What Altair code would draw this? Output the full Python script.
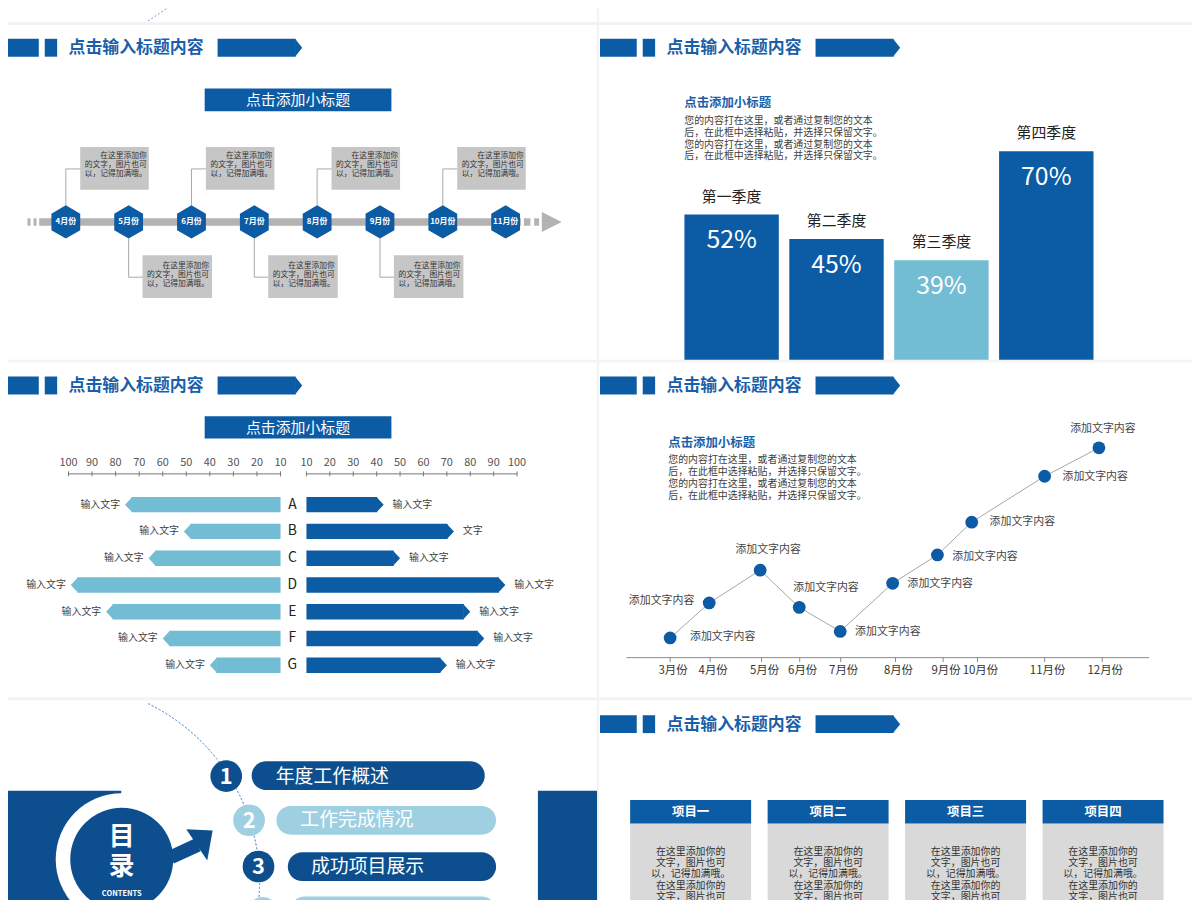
import altair as alt
import pandas as pd

# ---------------- chart values ----------------
header_title = "点击输入标题内容"
subtitle = "点击添加小标题"

timeline_months = ["4月份", "5月份", "6月份", "7月份", "8月份", "9月份", "10月份", "11月份"]
timeline_notes_above = ["4月份", "6月份", "8月份", "10月份"]
timeline_notes_below = ["5月份", "7月份", "9月份"]
timeline_note = ["在这里添加你", "的文字，图片也可", "以，记得加满哦。"]

quarter_names = ["第一季度", "第二季度", "第三季度", "第四季度"]
quarter_values = [52, 45, 39, 70]

paragraph = [
    "您的内容打在这里，或者通过复制您的文本",
    "后，在此框中选择粘贴，并选择只保留文字。",
    "您的内容打在这里，或者通过复制您的文本",
    "后，在此框中选择粘贴，并选择只保留文字。",
]

pair_categories = ["A", "B", "C", "D", "E", "F", "G"]
pair_left = [76, 51, 66, 99, 84, 60, 40]
pair_right = [43, 73, 50, 95, 80, 86, 70]
pair_left_labels = ["输入文字", "输入文字", "输入文字", "输入文字", "输入文字", "输入文字", "输入文字"]
pair_right_labels = ["输入文字", "文字", "输入文字", "输入文字", "输入文字", "输入文字", "输入文字"]
pair_ticks = [10, 20, 30, 40, 50, 60, 70, 80, 90, 100]

line_months = ["3月份", "4月份", "5月份", "6月份", "7月份", "8月份", "9月份", "10月份", "11月份", "12月份"]
line_month_pos = [3.0, 3.82, 4.89, 5.71, 6.57, 7.67, 8.61, 9.33, 10.86, 12.0]
line_tick_pos = [3.0, 3.84, 4.92, 5.72, 6.58, 7.73, 8.73, 9.45, 10.86, 12.07]
line_values = [9, 25, 40, 23, 12, 34, 47, 62, 83, 96]
line_label = "添加文字内容"

toc_numbers = ["1", "2", "3"]
toc_items = ["年度工作概述", "工作完成情况", "成功项目展示"]
toc_title = ["目", "录"]
toc_sub = "CONTENTS"

project_names = ["项目一", "项目二", "项目三", "项目四"]
project_text = ["在这里添加你的", "文字，图片也可", "以，记得加满哦。", "在这里添加你的", "文字，图片也可"]

# ---------------- layout / style ----------------
OFF = 8  # page margin: reference pixel -> chart pixel


def p(v):
    return v - OFF


W, H = 1192, 892
FONT = "Noto Sans CJK SC"
BLUE = "#0c5ba5"
TITLE_BLUE = "#1a5fa9"
NAVY = "#0d4f8e"
LIGHT = "#72bcd4"
PALE = "#9ed0e2"
BOX_GRAY = "#c6c6c6"
CARD_GRAY = "#d9d9d9"
TL_GRAY = "#b3b3b3"
TXT = "#333333"

HEX = "M0,-1L0.866,-0.5L0.866,0.5L0,1L-0.866,0.5L-0.866,-0.5Z"
RTRI = "M0,-1L0.8,0L0,1Z"
LTIP = "M0,0L0.93,-1L0.93,1Z"
RTIP = "M0,0L-0.93,-1L-0.93,1Z"


def xpix(f="x"):
    return alt.X(f"{f}:Q", scale=None, axis=None)


def ypix(f="y"):
    return alt.Y(f"{f}:Q", scale=None, axis=None)


def rect_layer(rows, **mk):
    df = pd.DataFrame(rows, columns=["x", "x2", "y", "y2", "c"])
    for k in ["x", "x2", "y", "y2"]:
        df[k] = df[k] - OFF
    return alt.Chart(df).mark_rect(**mk).encode(
        x=xpix("x"), x2="x2:Q", y=ypix("y"), y2="y2:Q",
        color=alt.Color("c:N", scale=None, legend=None))


def text_layer(rows, size, color, weight="normal", align="left", **mk):
    df = pd.DataFrame(rows, columns=["x", "y", "t"])
    df["x"] = df["x"] - OFF
    df["y"] = df["y"] - OFF
    return alt.Chart(df).mark_text(font=FONT, fontSize=size, color=color, fontWeight=weight,
                                   align=align, baseline="middle", **mk).encode(
        x=xpix(), y=ypix(), text="t:N")


def sym_layer(rows, shape, size, color, **mk):
    df = pd.DataFrame(rows, columns=["x", "y"])
    df["x"] = df["x"] - OFF
    df["y"] = df["y"] - OFF
    return alt.Chart(df).mark_point(shape=shape, size=size, filled=True, color=color,
                                    opacity=1, strokeWidth=0, **mk).encode(x=xpix(), y=ypix())


def rule_layer(rows, color, width=1, **mk):
    df = pd.DataFrame(rows, columns=["x", "x2", "y", "y2"])
    for k in ["x", "x2", "y", "y2"]:
        df[k] = df[k] - OFF
    return alt.Chart(df).mark_rule(color=color, strokeWidth=width, **mk).encode(
        x=xpix("x"), x2="x2:Q", y=ypix("y"), y2="y2:Q")


layers = []

# ---- slides (white panels on light grey page) ----
SLIDE_COLS = [(-10, 601), (603, 1210)]
SLIDE_ROWS = [(-10, 19), (22, 359), (362, 699), (702, 910)]
layers.append(rect_layer([(c0, c1, r0, r1, "#ffffff") for (r0, r1) in SLIDE_ROWS for (c0, c1) in SLIDE_COLS]))

# ---- slide headers ----
HEADERS = [(0, 36), (602, 36), (0, 376), (602, 376), (602, 717)]
hdr = []
for hx, hy in HEADERS:
    hdr += [(hx + 2, hx + 39, hy, hy + 18, BLUE), (hx + 45, hx + 57.5, hy, hy + 18, BLUE),
            (hx + 219, hx + 297.5, hy, hy + 18, BLUE)]
layers.append(rect_layer(hdr))
layers.append(sym_layer([(hx + 297, hy + 9) for hx, hy in HEADERS], RTRI, 324, BLUE))
layers.append(text_layer([(hx + 69, hy + 9.5, header_title) for hx, hy in HEADERS], 17, TITLE_BLUE, "bold"))

# ---- subtitle bars ----
layers.append(rect_layer([(206, 394, 86, 109, BLUE), (206, 394, 416, 438.5, BLUE)]))
layers.append(text_layer([(300, 97.5, subtitle), (300, 427.5, subtitle)], 15, "#ffffff", align="center"))

# ---- timeline ----
layers.append(rect_layer([
    (39.4, 524.3, 216.7, 224.2, TL_GRAY), (27.6, 30.6, 216.7, 224.2, TL_GRAY), (33.7, 36.7, 216.7, 224.2, TL_GRAY),
    (527.4, 533.9, 216.7, 224.2, TL_GRAY), (537.7, 542.7, 216.7, 224.2, TL_GRAY)]))
layers.append(sym_layer([(545.4, 220.4)], "M0,-1L2,0L0,1Z", 400, TL_GRAY))

tl = pd.DataFrame({"month": timeline_months, "idx": list(range(len(timeline_months)))})
for i, line in enumerate(timeline_note):
    tl[f"n{i}"] = line
tx = alt.X("idx:Q", scale=alt.Scale(domain=[0, len(timeline_months) - 1], range=[p(66.2), p(509)]), axis=None)
base_tl = alt.Chart(tl)
up = alt.FieldOneOfPredicate(field="month", oneOf=timeline_notes_above)
down = alt.FieldOneOfPredicate(field="month", oneOf=timeline_notes_below)
CONN = "#a8a8a8"
layers += [
    base_tl.transform_filter(up).mark_rule(color=CONN).encode(x=tx, y=alt.value(p(167)), y2=alt.value(p(204))),
    base_tl.transform_filter(up).mark_rule(color=CONN, x2Offset=15).encode(x=tx, x2="idx:Q", y=alt.value(p(167))),
    base_tl.transform_filter(down).mark_rule(color=CONN).encode(x=tx, y=alt.value(p(237)), y2=alt.value(p(276))),
    base_tl.transform_filter(down).mark_rule(color=CONN, x2Offset=15).encode(x=tx, x2="idx:Q", y=alt.value(p(276))),
    base_tl.transform_filter(up).mark_rect(color=BOX_GRAY, xOffset=14.5, x2Offset=83.5).encode(
        x=tx, x2="idx:Q", y=alt.value(p(145)), y2=alt.value(p(188))),
    base_tl.transform_filter(down).mark_rect(color=BOX_GRAY, xOffset=14, x2Offset=84).encode(
        x=tx, x2="idx:Q", y=alt.value(p(254)), y2=alt.value(p(297))),
]
NOTE_DX = [34.7, 19.1, 19.1]
for i in range(len(timeline_note)):
    layers.append(base_tl.transform_filter(up).mark_text(
        font=FONT, fontSize=7.8, color=TXT, align="left", dx=NOTE_DX[i]).encode(
        x=tx, y=alt.value(p(154.5 + 9 * i)), text=f"n{i}:N"))
    layers.append(base_tl.transform_filter(down).mark_text(
        font=FONT, fontSize=7.8, color=TXT, align="left", dx=NOTE_DX[i] - 0.5).encode(
        x=tx, y=alt.value(p(264.5 + 9 * i)), text=f"n{i}:N"))
layers += [
    base_tl.mark_point(shape=HEX, size=1122, filled=True, color=BLUE, opacity=1, strokeWidth=0).encode(
        x=tx, y=alt.value(p(220.4))),
    base_tl.mark_text(font=FONT, fontSize=8, fontWeight="bold", color="#ffffff").encode(
        x=tx, y=alt.value(p(220.8)), text="month:N"),
]

# ---- quarterly bar chart ----
qdf = pd.DataFrame({"q": quarter_names, "v": quarter_values})
qx = alt.X("q:N", sort=quarter_names, axis=None,
           scale=alt.Scale(domain=quarter_names, range=[p(683.7), p(1106.1)], paddingInner=0.1, paddingOuter=0.05))
qy = alt.Y("v:Q", axis=None, scale=alt.Scale(domain=[0, 100], range=[p(396.9), p(42.9)]))
qbase = alt.Chart(qdf)
layers += [
    qbase.mark_rect().encode(x=qx, y=qy, y2=alt.value(p(359)),
                             color=alt.Color("q:N", legend=None,
                                             scale=alt.Scale(domain=quarter_names, range=[BLUE, BLUE, LIGHT, BLUE]))),
    qbase.mark_text(font=FONT, fontSize=15, color="#222222", dy=-18).encode(x=qx, y=qy, text="q:N"),
    qbase.transform_calculate(lab="datum.v + '%'").mark_text(font=FONT, fontSize=25, color="#ffffff", dy=26).encode(
        x=qx, y=qy, text="lab:N"),
]
layers.append(text_layer([(688.8, 101, subtitle)], 12.5, TITLE_BLUE, "bold"))
layers.append(text_layer([(688.8, 118.5 + 12 * i, t) for i, t in enumerate(paragraph)], 10, "#404040"))

# ---- back-to-back bars ----
pdf = pd.DataFrame({"cat": pair_categories, "left": pair_left, "right": pair_right,
                    "llab": pair_left_labels, "rlab": pair_right_labels})
pdf["base"] = pair_ticks[0]
py = alt.Y("cat:N", axis=None, sort=pair_categories,
           scale=alt.Scale(type="point", domain=pair_categories, range=[p(505), p(666.7)], padding=0))
lscale = alt.Scale(domain=[0, 100], range=[p(306.1), p(68.9)])
rscale = alt.Scale(domain=[0, 100], range=[p(284.9), p(520.5)])
lx = alt.X("left:Q", scale=lscale, axis=None)
rx = alt.X("right:Q", scale=rscale, axis=None)
pb = alt.Chart(pdf)
layers += [
    pb.mark_rule(strokeWidth=15.5, color=LIGHT, xOffset=6.5).encode(x=lx, x2="base:Q", y=py),
    pb.mark_point(shape=LTIP, size=225, filled=True, color=LIGHT, opacity=1, strokeWidth=0).encode(x=lx, y=py),
    pb.mark_text(font=FONT, fontSize=10, color="#404040", align="right", dx=-5).encode(x=lx, y=py, text="llab:N"),
    pb.mark_rule(strokeWidth=15.5, color=BLUE, xOffset=-6.5).encode(
        x=alt.X("right:Q", scale=rscale, axis=None), x2="base:Q", y=py),
    pb.mark_point(shape=RTIP, size=225, filled=True, color=BLUE, opacity=1, strokeWidth=0).encode(x=rx, y=py),
    pb.mark_text(font=FONT, fontSize=10, color="#404040", align="left", dx=9).encode(x=rx, y=py, text="rlab:N"),
    pb.mark_text(font=FONT, fontSize=14, color="#222222").encode(x=alt.value(p(294.3)), y=py, text="cat:N"),
]
tdf = alt.Chart(pd.DataFrame({"t": pair_ticks}))
for sc in (lscale, rscale):
    tq = alt.X("t:Q", scale=sc, axis=None)
    layers += [
        tdf.mark_text(font=FONT, fontSize=11, color="#555555").encode(x=tq, y=alt.value(p(463)), text="t:Q"),
        tdf.mark_rule(color="#777777").encode(x=tq, y=alt.value(p(471.5)), y2=alt.value(p(476.5))),
        tdf.transform_aggregate(lo="min(t)", hi="max(t)").mark_rule(color="#777777").encode(
            x=alt.X("lo:Q", scale=sc, axis=None), x2="hi:Q", y=alt.value(p(474))),
    ]

# ---- line chart ----
ldf = pd.DataFrame({"month": line_months, "pos": line_month_pos, "v": line_values, "tick": line_tick_pos})
ldf["lab"] = line_label
lxs = alt.Scale(domain=[3, 12], range=[p(674.6), p(1106.3)])
lys = alt.Scale(domain=[0, 100], range=[p(659), p(439)])
lX = alt.X("pos:Q", scale=lxs, axis=None)
lY = alt.Y("v:Q", scale=lys, axis=None)
lb = alt.Chart(ldf)
layers.append(rule_layer([(630.6, 1156.8, 659, 659)], "#8a8a8a"))
layers += [
    lb.mark_rule(color="#8a8a8a").encode(x=alt.X("tick:Q", scale=lxs, axis=None),
                                         y=alt.value(p(659)), y2=alt.value(p(663.5))),
    lb.mark_text(font=FONT, fontSize=11.5, color=TXT, dx=3).encode(
        x=alt.X("tick:Q", scale=lxs, axis=None), y=alt.value(p(672.7)), text="month:N"),
    lb.mark_line(color="#a6a6a6", strokeWidth=1).encode(x=lX, y=lY, order="pos:Q"),
    lb.mark_circle(size=165, color=BLUE, opacity=1).encode(x=lX, y=lY),
]
LABEL_OFFSETS = {
    "3月份": (20, -1, "left"), "4月份": (-15, -2, "right"), "5月份": (8, -20, "center"),
    "6月份": (27, -19, "center"), "7月份": (15, 1, "left"), "8月份": (15, 1, "left"),
    "9月份": (15, 2, "left"), "10月份": (18, 0, "left"), "11月份": (18, 1, "left"),
    "12月份": (4, -19, "center"),
}
for m in line_months:
    dx, dy, al = LABEL_OFFSETS[m]
    layers.append(lb.transform_filter(alt.datum.month == m)
                  .mark_text(font=FONT, fontSize=11, color="#444444", align=al, dx=dx, dy=dy)
                  .encode(x=lX, y=lY, text="lab:N"))
layers.append(text_layer([(672.7, 442.7, subtitle)], 12.5, TITLE_BLUE, "bold"))
layers.append(text_layer([(672.7, 460.5 + 12 * i, t) for i, t in enumerate(paragraph)], 10, "#404040"))

# ---- table of contents slide ----
layers.append(rule_layer([(149, 176, 18, 0)], "#6f9fd8", strokeDash=[2, 2]))
layers.append(rect_layer([(-10, 122, 793, 910, NAVY), (541.5, 601, 793, 910, NAVY)]))
layers.append(sym_layer([(122.5, 862)], "circle", 17671, "#ffffff"))
layers.append(sym_layer([(122.5, 862)], "circle", 10751, NAVY))
layers.append(rule_layer([(172, 199, 860, 847.5)], NAVY, 14))
layers.append(sym_layer([(200, 845)], "M14,-12L-12.5,-13.3L8.6,18.3Z", 4, NAVY))
layers.append(alt.Chart(pd.DataFrame({"a": [0]})).mark_arc(
    radius=200, radius2=200, theta=0.455, theta2=1.75, filled=False, color="#6f9fd8",
    strokeWidth=1, strokeDash=[2, 2]).encode(x=alt.value(p(61.3)), y=alt.value(p(885))))
layers.append(rect_layer([(253.3, 488, 763.3, 792.3, NAVY), (278.2, 499.4, 808.3, 837.3, PALE),
                          (289.7, 499.4, 855, 884, NAVY), (292, 499.4, 899.5, 928.5, PALE)], cornerRadius=14.5))
circ = [(227.7, 778.3), (250.7, 822.7), (260.2, 869.3), (264.5, 916)]
circ_col = [NAVY, PALE, NAVY, PALE]
for (cx_, cy_), cc in zip(circ, circ_col):
    layers.append(sym_layer([(cx_, cy_)], "circle", 1018, cc))
layers.append(text_layer([(c[0], c[1] + 0.5, n) for c, n in zip(circ, toc_numbers)], 22, "#ffffff", "bold", "center"))
layers.append(text_layer([(277.5, 779.3, toc_items[0]), (302.3, 823, toc_items[1]), (313, 870, toc_items[2])],
                         19, "#ffffff"))
layers.append(text_layer([(122.5, 840, toc_title[0]), (122.5, 869.5, toc_title[1])], 26, "#ffffff", "bold", "center"))
layers.append(text_layer([(122.5, 897, toc_sub)], 7.5, "#ffffff", "bold", "center"))

# ---- project cards ----
cdf = pd.DataFrame({"name": project_names})
for i, line in enumerate(project_text):
    cdf[f"b{i}"] = line
cX = alt.X("name:N", sort=project_names, axis=None,
           scale=alt.Scale(domain=project_names, range=[p(626.05), p(1179.65)], paddingInner=0.12, paddingOuter=0.06))
cb = alt.Chart(cdf)
layers += [
    cb.mark_rect(color=CARD_GRAY).encode(x=cX, y=alt.value(p(826)), y2=alt.value(p(912))),
    cb.mark_rect(color=BLUE).encode(x=cX, y=alt.value(p(802.3)), y2=alt.value(p(826))),
    cb.mark_text(font=FONT, fontSize=12.5, fontWeight="bold", color="#ffffff").encode(
        x=cX, y=alt.value(p(814.3)), text="name:N"),
]
for i in range(len(project_text)):
    layers.append(cb.mark_text(font=FONT, fontSize=10, color=TXT).encode(
        x=cX, y=alt.value(p(854.3 + 11.5 * i)), text=f"b{i}:N"))

chart = alt.layer(*layers).properties(
    width=W, height=H, padding=0, autosize=alt.AutoSizeParams(type="none")
).resolve_scale(x="independent", y="independent", color="independent").configure(
    background="#f3f3f3"
).configure_view(strokeWidth=0)

chart.save("out.html", embed_options={"renderer": "svg", "actions": False})
